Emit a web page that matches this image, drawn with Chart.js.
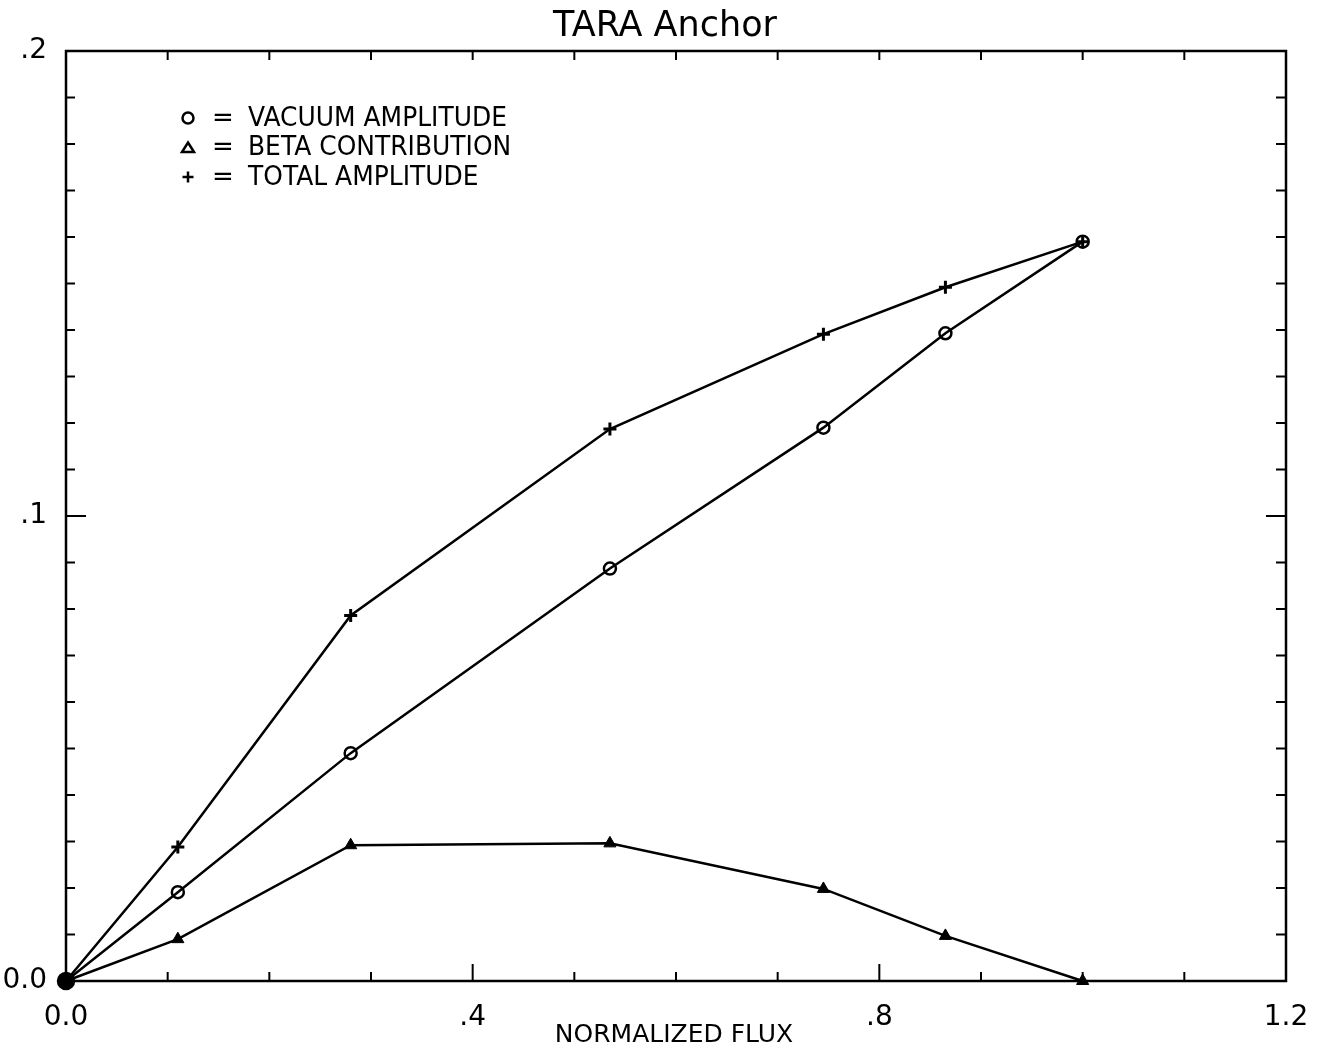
<!DOCTYPE html>
<html>
<head>
<meta charset="utf-8">
<script src="https://cdn.jsdelivr.net/npm/chart.js@4.4.1/dist/chart.umd.min.js"></script>
<style>
  html, body { margin: 0; padding: 0; background: #fff; }
  #wrap { width: 1327px; height: 1053px; }
</style>
</head>
<body>
<div id="wrap"><canvas id="chart" width="1327" height="1053"></canvas></div>
<script>
// Values
const fluxValues = [0.0, 0.11, 0.28, 0.535, 0.745, 0.865, 1.0];
const vacuumAmp = [0.0, 0.0191, 0.049, 0.0887, 0.119, 0.1393, 0.159];
const betaContrib = [0.0, 0.009, 0.0292, 0.0296, 0.0198, 0.0097, 0.0];
const totalAmp = [0.0, 0.0288, 0.0786, 0.1187, 0.1391, 0.1492, 0.159];

const xTickLabels = [0, 0.4, 0.8, 1.2];
const yTickLabels = [0, 0.1, 0.2];
const legendItems = ['VACUUM AMPLITUDE', 'BETA CONTRIBUTION', 'TOTAL AMPLITUDE'];
const chartTitle = 'TARA Anchor';
const xTitle = 'NORMALIZED FLUX';

const FONT = "'DejaVu Sans', sans-serif";
Chart.defaults.font.family = FONT;
Chart.defaults.color = '#000';

function toPoints(ys) {
    return fluxValues.map((x, i) => ({ x: x, y: ys[i] }));
}

function fmt(v) {
    if (Math.abs(v) < 1e-9) return '0.0';
    return v.toFixed(1).replace(/^0/, '');
}

// frame, inward ticks, title and the hand-lettered style key
const framePlugin = {
    id: 'frame',
    afterDraw(chart) {
        const ctx = chart.ctx;
        const a = chart.chartArea;
        const xs = chart.scales.x;
        const ys = chart.scales.y;
        ctx.save();
        ctx.strokeStyle = '#000';
        ctx.lineWidth = 2.5;
        ctx.strokeRect(a.left, a.top, a.right - a.left, a.bottom - a.top);

        ctx.lineWidth = 2;
        ctx.beginPath();
        for (let i = 0; i <= 12; i++) {
            const px = xs.getPixelForValue(i / 10);
            const major = (i % 4 === 0);
            const len = major ? 17 : 9;
            ctx.moveTo(px, a.bottom);
            ctx.lineTo(px, a.bottom - len);
            ctx.moveTo(px, a.top);
            ctx.lineTo(px, a.top + 9);
        }
        for (let i = 0; i <= 20; i++) {
            const py = ys.getPixelForValue(i / 100);
            const major = (i % 10 === 0);
            ctx.moveTo(a.left, py);
            ctx.lineTo(a.left + (major ? 20 : 9), py);
            ctx.moveTo(a.right, py);
            ctx.lineTo(a.right - (major ? 20 : 10), py);
        }
        ctx.stroke();

        // title
        ctx.fillStyle = '#000';
        ctx.font = '35px ' + FONT;
        ctx.textAlign = 'center';
        ctx.textBaseline = 'alphabetic';
        ctx.fillText(chartTitle, 665, 36);

        // x axis title
        ctx.font = '25px ' + FONT;
        ctx.fillText(xTitle, 674, 1042);

        // key
        const rows = [118, 147.5, 177];
        ctx.font = '26px ' + FONT;
        ctx.textAlign = 'left';
        rows.forEach((cy, i) => {
            const mx = 188;
            ctx.lineWidth = 2.5;
            ctx.beginPath();
            if (i === 0) {
                ctx.arc(mx, cy, 5.5, 0, Math.PI * 2);
                ctx.stroke();
            } else if (i === 1) {
                ctx.moveTo(mx, cy - 5);
                ctx.lineTo(mx + 6, cy + 4.5);
                ctx.lineTo(mx - 6, cy + 4.5);
                ctx.closePath();
                ctx.stroke();
            } else {
                ctx.moveTo(mx - 5.5, cy);
                ctx.lineTo(mx + 5.5, cy);
                ctx.moveTo(mx, cy - 5.5);
                ctx.lineTo(mx, cy + 5.5);
                ctx.stroke();
            }
            ctx.textBaseline = 'middle';
            ctx.fillText('=', 212, cy + 1);
            ctx.save();
            ctx.translate(248, cy + 1);
            ctx.scale(0.96, 1);
            ctx.fillText(legendItems[i], 0, 0);
            ctx.restore();
        });
        ctx.restore();
    }
};

const ctx = document.getElementById('chart').getContext('2d');
new Chart(ctx, {
    type: 'scatter',
    data: {
        datasets: [
            {
                label: legendItems[0],
                data: toPoints(vacuumAmp),
                showLine: true,
                borderColor: '#000',
                borderWidth: 2.5,
                pointStyle: 'circle',
                pointRadius: [8, 6, 6, 6, 6, 6, 6],
                pointBorderWidth: 2.5,
                pointBorderColor: '#000',
                pointBackgroundColor: ['#000', 'rgba(0,0,0,0)', 'rgba(0,0,0,0)', 'rgba(0,0,0,0)', 'rgba(0,0,0,0)', 'rgba(0,0,0,0)', 'rgba(0,0,0,0)'],
                clip: false
            },
            {
                label: legendItems[1],
                data: toPoints(betaContrib),
                showLine: true,
                borderColor: '#000',
                borderWidth: 2.5,
                pointStyle: 'triangle',
                pointRadius: 7,
                pointBorderWidth: 1,
                pointBorderColor: '#000',
                pointBackgroundColor: '#000',
                clip: false
            },
            {
                label: legendItems[2],
                data: toPoints(totalAmp),
                showLine: true,
                borderColor: '#000',
                borderWidth: 2.5,
                pointStyle: 'cross',
                pointRadius: 6.5,
                pointBorderWidth: 3,
                pointBorderColor: '#000',
                clip: false
            }
        ]
    },
    options: {
        responsive: false,
        animation: false,
        layout: {
            padding: { top: 51, right: 41, left: 0, bottom: 0 }
        },
        plugins: {
            legend: { display: false },
            title: { display: false },
            tooltip: { enabled: false }
        },
        scales: {
            x: {
                type: 'linear',
                min: 0,
                max: 1.2,
                grid: { display: false },
                border: { display: false },
                afterFit: (scale) => { scale.height = 72; },
                afterBuildTicks: (scale) => {
                    scale.ticks = xTickLabels.map(v => ({ value: v }));
                },
                ticks: {
                    padding: 12,
                    maxRotation: 0,
                    autoSkip: false,
                    font: { size: 28 },
                    color: '#000',
                    callback: (v) => fmt(v)
                }
            },
            y: {
                type: 'linear',
                min: 0,
                max: 0.2,
                grid: { display: false },
                border: { display: false },
                afterFit: (scale) => { scale.width = 66; },
                afterBuildTicks: (scale) => {
                    scale.ticks = yTickLabels.map(v => ({ value: v }));
                },
                ticks: {
                    padding: 11,
                    autoSkip: false,
                    font: { size: 28 },
                    color: '#000',
                    callback: (v) => fmt(v)
                }
            }
        }
    },
    plugins: [framePlugin]
});
</script>
</body>
</html>
